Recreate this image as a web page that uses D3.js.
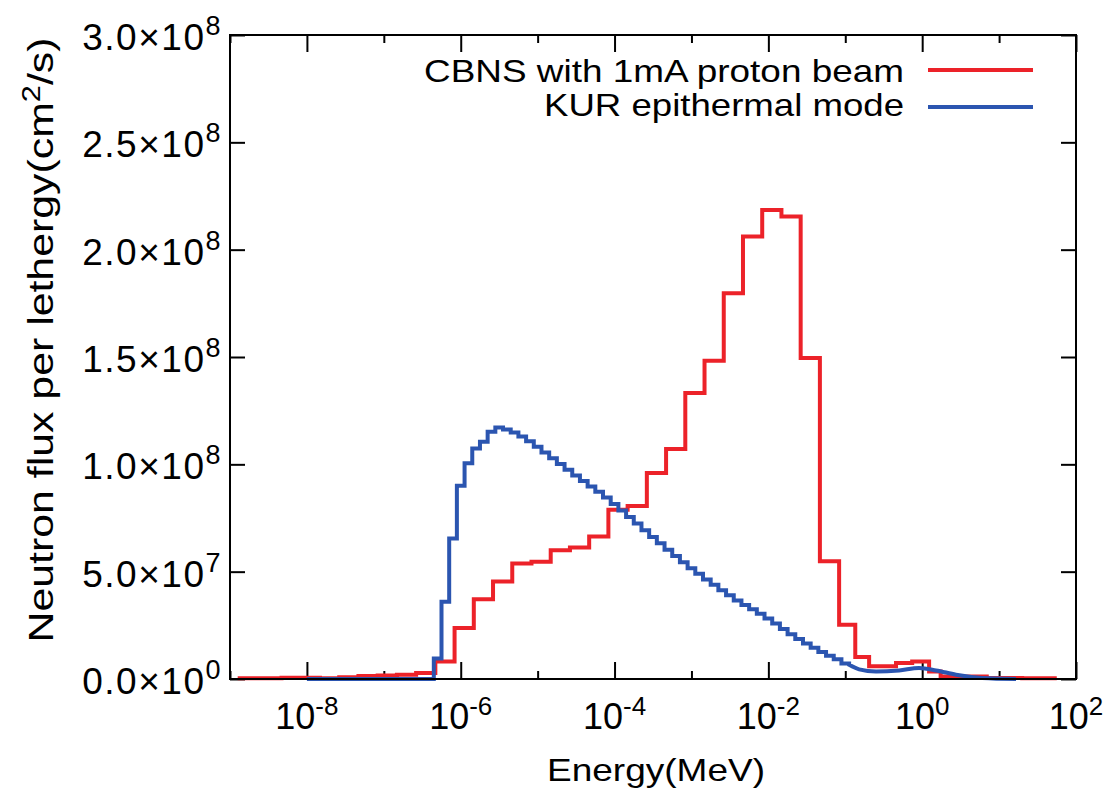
<!DOCTYPE html>
<html><head><meta charset="utf-8">
<script src="https://cdn.jsdelivr.net/npm/d3@7"></script>
<style>body{margin:0;background:#fff}svg{display:block}</style>
</head><body><svg id="c" width="1110" height="791"></svg>
<script>
// ---- data (energies as log10(MeV), flux in units of 1e8 /cm^2/s) ----
const redEdgesLog = [-8.9,-8.33,-7.83,-7.58,-7.33,-7.08,-6.83,-6.58,-6.33,-6.08,-5.83,-5.58,-5.33,-5.08,-4.83,-4.58,-4.33,-4.08,-3.83,-3.58,-3.33,-3.08,-2.83,-2.58,-2.33,-2.08,-1.83,-1.58,-1.33,-1.08,-0.87,-0.69,-0.34,-0.13,0.09,0.24,0.84,1.3,1.75];
const redValues = [0.003,0.006,0.004,0.008,0.014,0.016,0.02,0.028,0.082,0.237,0.372,0.454,0.538,0.546,0.600,0.612,0.664,0.788,0.806,0.960,1.071,1.332,1.483,1.797,2.061,2.185,2.154,1.495,0.548,0.253,0.102,0.059,0.075,0.082,0.035,0.012,0.005,0.003];

const blueEdgesLog = [-8.0,-6.35,-6.25,-6.15,-6.05,-5.95,-5.85,-5.75,-5.65,-5.55,-5.45,-5.35,-5.25,-5.15,-5.05,-4.95,-4.85,-4.75,-4.65,-4.55,-4.45,-4.35,-4.25,-4.15,-4.05,-3.95,-3.85,-3.75,-3.65,-3.55,-3.45,-3.35,-3.25,-3.15,-3.05,-2.95,-2.85,-2.75,-2.65,-2.55,-2.45,-2.35,-2.25,-2.15,-2.05,-1.95,-1.85,-1.75,-1.65,-1.55,-1.45,-1.35,-1.25,-1.15,-1.05,-0.95];
const blueValues = [0.0,0.096,0.36,0.655,0.90,1.005,1.074,1.105,1.152,1.172,1.162,1.148,1.130,1.108,1.082,1.055,1.028,1.002,0.975,0.948,0.922,0.897,0.872,0.845,0.815,0.785,0.755,0.724,0.693,0.662,0.632,0.602,0.573,0.544,0.516,0.490,0.464,0.439,0.414,0.390,0.366,0.345,0.325,0.304,0.282,0.258,0.233,0.208,0.186,0.165,0.145,0.126,0.108,0.092,0.072];
const blueTailLog = [-0.95,-0.82,-0.6,-0.3,-0.04,0.18,0.44,0.78,1.22];
const blueTailValues = [0.066,0.045,0.035,0.040,0.051,0.040,0.020,0.005,0.0];

const yTickValues = [0,0.5,1.0,1.5,2.0,2.5,3.0];
const yTickMantissa = ["0.0","5.0","1.0","1.5","2.0","2.5","3.0"];
const yTickExponent = ["0","7","8","8","8","8","8"];
const xMajorExp = [-8,-6,-4,-2,0,2];
const xMinorExp = [-9,-7,-5,-3,-1,1];

const seriesNames = ["CBNS with 1mA proton beam","KUR epithermal mode"];
const seriesColors = ["#ec2229","#2b55b0"];

// ---- layout ----
const L = 230, R = 1076, T = 35, B = 679;
const svg = d3.select("#c");
const x = d3.scaleLog().domain([1e-9, 1e2]).range([L, R]);
const y = d3.scaleLinear().domain([0, 3]).range([B, T]);
const font = "'Liberation Sans', Arial, Helvetica, sans-serif";

svg.append("rect").attr("width",1110).attr("height",791).attr("fill","#fff");

// ticks via axes
function axisG(axis, tx, ty){
  const g = svg.append("g").attr("transform",`translate(${tx},${ty})`).call(axis);
  g.select(".domain").remove();
  g.selectAll(".tick line").attr("stroke","#000").attr("stroke-width",2);
  g.selectAll(".tick text").remove();
  return g;
}
const major = xMajorExp.map(e=>Math.pow(10,e));
const minor = xMinorExp.map(e=>Math.pow(10,e));
axisG(d3.axisBottom(x).tickValues(major).tickSize(-17).tickFormat(""),0,B);
axisG(d3.axisBottom(x).tickValues(minor).tickSize(-8).tickFormat(""),0,B);
axisG(d3.axisTop(x).tickValues(major).tickSize(-17).tickFormat(""),0,T);
axisG(d3.axisTop(x).tickValues(minor).tickSize(-8).tickFormat(""),0,T);
axisG(d3.axisLeft(y).tickValues(yTickValues).tickSize(-15).tickFormat(""),L,0);
axisG(d3.axisRight(y).tickValues(yTickValues).tickSize(-15).tickFormat(""),R,0);

// x tick labels
xMajorExp.forEach(e=>{
  const t = svg.append("text").attr("x",x(Math.pow(10,e))).attr("y",B+50)
    .attr("text-anchor","middle").attr("font-family",font).attr("font-size",36).attr("fill","#000");
  t.append("tspan").text("10");
  t.append("tspan").attr("dy",-14).attr("font-size",26).text(String(e));
});
// y tick labels
yTickValues.forEach((v,i)=>{
  const t = svg.append("text").attr("x",L-8).attr("y",y(v)+15)
    .attr("text-anchor","end").attr("font-family",font).attr("font-size",37).attr("fill","#000")
    .attr("letter-spacing",1.5);
  t.append("tspan").text(yTickMantissa[i]+"\u00d710");
  t.append("tspan").attr("dy",-15).attr("font-size",27).text(yTickExponent[i]);
});

// data lines
const stepLine = d3.line().x(d=>x(Math.pow(10,d[0]))).y(d=>y(d[1])).curve(d3.curveStepAfter);
const smoothLine = d3.line().x(d=>x(Math.pow(10,d[0]))).y(d=>y(d[1])).curve(d3.curveMonotoneX);
function stepPts(edges, vals){
  const p = vals.map((v,i)=>[edges[i], v]);
  p.push([edges[edges.length-1], vals[vals.length-1]]);
  return p;
}
const plot = svg.append("g");
const redPath = stepLine(stepPts(redEdgesLog, redValues));
const bluePath = stepLine(stepPts(blueEdgesLog, blueValues)) +
  smoothLine(blueTailLog.map((e,i)=>[e, blueTailValues[i]])).replace(/^M/,"L");
plot.append("path").attr("d",redPath).attr("fill","none").attr("stroke",seriesColors[0])
  .attr("stroke-width",4).attr("stroke-linejoin","miter");
plot.append("path").attr("d",bluePath).attr("fill","none").attr("stroke",seriesColors[1])
  .attr("stroke-width",4).attr("stroke-linejoin","miter");

// frame
svg.append("rect").attr("x",L).attr("y",T).attr("width",R-L).attr("height",B-T)
  .attr("fill","none").attr("stroke","#000").attr("stroke-width",2);

// legend
const legY = [82, 116], lineY = [70, 107], legLen = [480, 360];
seriesNames.forEach((n,i)=>{
  svg.append("text").attr("x",904).attr("y",legY[i]).attr("text-anchor","end")
    .attr("font-family",font).attr("font-size",32).attr("fill","#000")
    .attr("textLength",legLen[i]).attr("lengthAdjust","spacingAndGlyphs").text(n);
  svg.append("line").attr("x1",928).attr("x2",1033).attr("y1",lineY[i]).attr("y2",lineY[i])
    .attr("stroke",seriesColors[i]).attr("stroke-width",4);
});

// axis titles
svg.append("text").attr("x",656).attr("y",781).attr("text-anchor","middle")
  .attr("font-family",font).attr("font-size",32).attr("fill","#000")
  .attr("textLength",218).attr("lengthAdjust","spacingAndGlyphs").text("Energy(MeV)");
const yt = svg.append("text").attr("transform","translate(53,340) rotate(-90)").attr("text-anchor","middle")
  .attr("font-family",font).attr("font-size",35).attr("fill","#000")
  .attr("textLength",605).attr("lengthAdjust","spacingAndGlyphs");
yt.append("tspan").text("Neutron flux per lethergy(cm");
yt.append("tspan").attr("dy",-13).attr("font-size",25).text("2");
yt.append("tspan").attr("dy",13).text("/s)");
</script>
</body></html>
